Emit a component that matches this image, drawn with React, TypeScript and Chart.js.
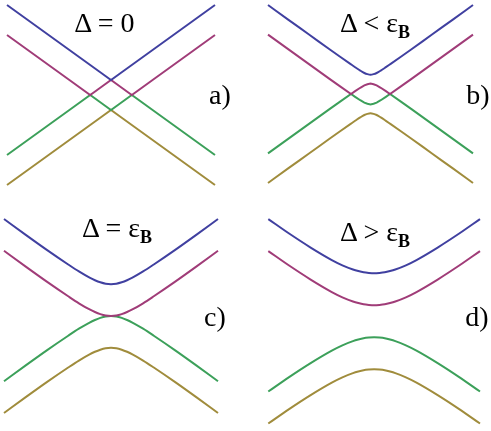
import React, { useEffect, useRef } from "react";
import { Chart, registerables } from "chart.js";

Chart.register(...registerables);

// Band colours (top to bottom)
const COLORS = ["#4040a0", "#a03c78", "#3ca05a", "#a08c3c"];

// Panel a) Δ = 0 : momentum samples and the four band energies
const K_A = [-5, -4, -3, -2, -1, -0.5, 0, 0.5, 1, 2, 3, 4, 5];
const BLUE_A = [6, 5, 4, 3, 2, 1.5, 1, 1.5, 2, 3, 4, 5, 6];
const MAGENTA_A = [4, 3, 2, 1, 0, 0.5, 1, 0.5, 0, 1, 2, 3, 4];
const GREEN_A = [-4, -3, -2, -1, 0, -0.5, -1, -0.5, 0, -1, -2, -3, -4];
const OLIVE_A = [-6, -5, -4, -3, -2, -1.5, -1, -1.5, -2, -3, -4, -5, -6];

// Panel b) Δ < εB
const K_B = [-5, -4, -3, -2, -1.5, -0.95, -0.75, -0.5, -0.3, -0.15, 0, 0.15, 0.3, 0.5, 0.75, 0.95, 1.5, 2, 3, 4, 5];
const BLUE_B = [6.01, 5.01, 4.02, 3.02, 2.53, 2.0, 1.81, 1.58, 1.42, 1.34, 1.3, 1.34, 1.42, 1.58, 1.81, 2.0, 2.53, 3.02, 4.02, 5.01, 6.01];
const MAGENTA_B = [4.01, 3.01, 2.02, 1.02, 0.53, 0.0, 0.19, 0.42, 0.58, 0.66, 0.7, 0.66, 0.58, 0.42, 0.19, 0.0, 0.53, 1.02, 2.02, 3.01, 4.01];
const GREEN_B = [-4.01, -3.01, -2.02, -1.02, -0.53, 0.0, -0.19, -0.42, -0.58, -0.66, -0.7, -0.66, -0.58, -0.42, -0.19, 0.0, -0.53, -1.02, -2.02, -3.01, -4.01];
const OLIVE_B = [-6.01, -5.01, -4.02, -3.02, -2.53, -2.0, -1.81, -1.58, -1.42, -1.34, -1.3, -1.34, -1.42, -1.58, -1.81, -2.0, -2.53, -3.02, -4.02, -5.01, -6.01];

// Panel c) Δ = εB
const K_C = [-5, -4, -3, -2, -1.5, -1, -0.75, -0.5, -0.25, 0, 0.25, 0.5, 0.75, 1, 1.5, 2, 3, 4, 5];
const BLUE_C = [6.1, 5.12, 4.16, 3.24, 2.8, 2.41, 2.25, 2.12, 2.03, 2.0, 2.03, 2.12, 2.25, 2.41, 2.8, 3.24, 4.16, 5.12, 6.1];
const MAGENTA_C = [4.1, 3.12, 2.16, 1.24, 0.8, 0.41, 0.25, 0.12, 0.03, 0.0, 0.03, 0.12, 0.25, 0.41, 0.8, 1.24, 2.16, 3.12, 4.1];
const GREEN_C = [-4.1, -3.12, -2.16, -1.24, -0.8, -0.41, -0.25, -0.12, -0.03, 0.0, -0.03, -0.12, -0.25, -0.41, -0.8, -1.24, -2.16, -3.12, -4.1];
const OLIVE_C = [-6.1, -5.12, -4.16, -3.24, -2.8, -2.41, -2.25, -2.12, -2.03, -2.0, -2.03, -2.12, -2.25, -2.41, -2.8, -3.24, -4.16, -5.12, -6.1];

// Panel d) Δ > εB
const K_D = [-5, -4, -3, -2, -1.5, -1, -0.75, -0.5, -0.25, 0, 0.25, 0.5, 0.75, 1, 1.5, 2, 3, 4, 5];
const BLUE_D = [6.39, 5.47, 4.61, 3.83, 3.5, 3.24, 3.14, 3.06, 3.02, 3.0, 3.02, 3.06, 3.14, 3.24, 3.5, 3.83, 4.61, 5.47, 6.39];
const MAGENTA_D = [4.39, 3.47, 2.61, 1.83, 1.5, 1.24, 1.14, 1.06, 1.02, 1.0, 1.02, 1.06, 1.14, 1.24, 1.5, 1.83, 2.61, 3.47, 4.39];
const GREEN_D = [-4.39, -3.47, -2.61, -1.83, -1.5, -1.24, -1.14, -1.06, -1.02, -1.0, -1.02, -1.06, -1.14, -1.24, -1.5, -1.83, -2.61, -3.47, -4.39];
const OLIVE_D = [-6.39, -5.47, -4.61, -3.83, -3.5, -3.24, -3.14, -3.06, -3.02, -3.0, -3.02, -3.06, -3.14, -3.24, -3.5, -3.83, -4.61, -5.47, -6.39];

type PanelProps = {
  k: number[];
  bands: number[][];
  smooth: boolean[];
  left: number;
  top: number;
  width: number;
  height: number;
  yMin: number;
  yMax: number;
  padding: { left: number; right: number; top: number; bottom: number };
};

function Panel(props: PanelProps) {
  const ref = useRef<HTMLCanvasElement | null>(null);
  useEffect(() => {
    if (!ref.current) return;
    const chart = new Chart(ref.current, {
      type: "line",
      data: {
        datasets: props.bands.map((vals, i) => ({
          data: props.k.map((x, j) => ({ x, y: vals[j] })),
          borderColor: COLORS[i],
          borderWidth: 2,
          pointRadius: 0,
          fill: false,
          tension: 0,
          cubicInterpolationMode: props.smooth[i] ? "monotone" : "default",
          clip: false,
        })),
      },
      options: {
        animation: false,
        responsive: false,
        devicePixelRatio: 1,
        layout: { padding: props.padding },
        plugins: { legend: { display: false }, tooltip: { enabled: false }, title: { display: false } },
        scales: {
          x: { type: "linear", min: -5, max: 5, display: false },
          y: { type: "linear", min: props.yMin, max: props.yMax, display: false },
        },
      },
    } as any);
    return () => chart.destroy();
  }, []);
  return (
    <canvas
      ref={ref}
      width={props.width}
      height={props.height}
      style={{ position: "absolute", left: props.left, top: props.top, width: props.width, height: props.height }}
    />
  );
}

const serif = "'Liberation Serif', 'DejaVu Serif', serif";
const FS = 28;

function Label(props: { cx: number; baseline: number; children: React.ReactNode }) {
  return (
    <div
      style={{
        position: "absolute",
        left: props.cx - 100,
        top: props.baseline - Math.round(0.8375 * FS),
        width: 200,
        textAlign: "center",
        fontFamily: serif,
        fontSize: FS,
        lineHeight: FS + "px",
        color: "#000",
        whiteSpace: "nowrap",
      }}
    >
      {props.children}
    </div>
  );
}

const Sub = () => (
  <span style={{ fontWeight: "bold", fontSize: 18, position: "relative", top: 6 }}>B</span>
);

export default function App() {
  return (
    <div style={{ position: "absolute", left: 0, top: 0, width: 491, height: 431, background: "#fff", overflow: "hidden" }}>
      <Panel
        k={K_A}
        bands={[BLUE_A, MAGENTA_A, GREEN_A, OLIVE_A]}
        smooth={[false, false, false, false]}
        left={0}
        top={0}
        width={245}
        height={215}
        yMin={-6.2}
        yMax={6.2}
        padding={{ left: 7, right: 30, top: 2, bottom: 27 }}
      />
      <Panel
        k={K_B}
        bands={[BLUE_B, MAGENTA_B, GREEN_B, OLIVE_B]}
        smooth={[true, false, false, true]}
        left={245}
        top={0}
        width={246}
        height={215}
        yMin={-6.2}
        yMax={6.2}
        padding={{ left: 23, right: 18, top: 2.2, bottom: 29.2 }}
      />
      <Panel
        k={K_C}
        bands={[BLUE_C, MAGENTA_C, GREEN_C, OLIVE_C]}
        smooth={[true, true, true, true]}
        left={0}
        top={210}
        width={245}
        height={221}
        yMin={-6.3}
        yMax={6.3}
        padding={{ left: 4, right: 27, top: 5.8, bottom: 14.8 }}
      />
      <Panel
        k={K_D}
        bands={[BLUE_D, MAGENTA_D, GREEN_D, OLIVE_D]}
        smooth={[true, true, true, true]}
        left={245}
        top={210}
        width={246}
        height={221}
        yMin={-6.6}
        yMax={6.6}
        padding={{ left: 23.3, right: 11, top: 5.7, bottom: 4.1 }}
      />

      <Label cx={104.5} baseline={32}>Δ = 0</Label>
      <Label cx={375} baseline={32}>Δ &lt; ε<Sub /></Label>
      <Label cx={117} baseline={237}>Δ = ε<Sub /></Label>
      <Label cx={375} baseline={241}>Δ &gt; ε<Sub /></Label>

      <Label cx={220} baseline={104}>a)</Label>
      <Label cx={478} baseline={104}>b)</Label>
      <Label cx={215} baseline={326}>c)</Label>
      <Label cx={477} baseline={326}>d)</Label>
    </div>
  );
}
